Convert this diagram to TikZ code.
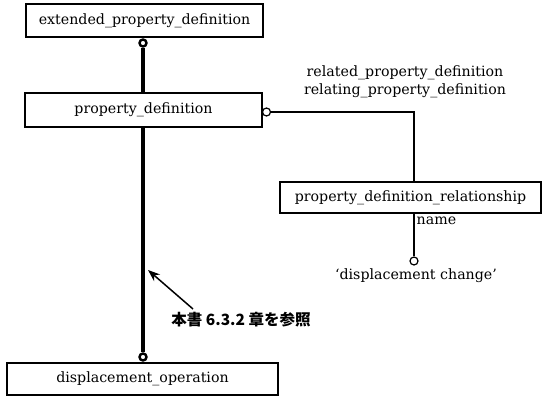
\documentclass[tikz,border=0pt]{standalone}
\usepackage{fontspec}
\setmainfont{DejaVu Serif}
\newfontfamily\cjk{Noto Sans CJK JP}
\usetikzlibrary{arrows.meta, positioning}

\begin{document}
\begin{tikzpicture}[x=1pt, y=-1pt, >={Stealth[length=12pt,width=9pt]},
  entity/.style={draw, line width=1.2pt, minimum height=33pt, inner sep=0pt,
    font=\fontsize{14.2}{16}\selectfont},
  ring/.style={circle, draw, fill=white, inner sep=0pt, minimum size=7pt},
  lbl/.style={inner sep=0pt, font=\fontsize{14.2}{16}\selectfont}]
  \useasboundingbox (0,0) rectangle (550,401);

  % Entities
  \node[entity, minimum width=237pt] (extpd) at (144.5,20.5) {extended\_property\_definition};
  \node[entity, minimum width=237pt, minimum height=34pt] (pd) at (143.5,110) {property\_definition};
  \node[entity, minimum width=261pt, minimum height=31pt] (pdr) at (410.5,197.5) {property\_definition\_relationship};
  \node[entity, minimum width=271pt, minimum height=32pt] (dispop) at (142.5,379) {displacement\_operation};

  % Rings
  \node[ring, line width=2.4pt] (supring) at (143,43) {};
  \node[ring, line width=1.2pt, minimum size=8pt] (relring) at (266.5,112) {};
  \node[ring, line width=1.2pt, minimum size=8pt] (namering) at (414,261) {};
  \node[ring, line width=2.4pt] (subring) at (143,357) {};

  % Supertype links
  \draw[line width=3.4pt] (supring.south) -- (supring.south |- pd.north);
  \draw[line width=3.4pt] (subring.north |- pd.south) -- (subring.north);

  % Relationship
  \draw[line width=1.5pt] (relring.east) -| ([xshift=3.5pt]pdr.north);
  \node[lbl] (related) at (405,73) {related\_property\_definition};
  \node[lbl] (relating) at (405,91) {relating\_property\_definition};

  % Name attribute
  \draw[line width=1.5pt] ([xshift=3.5pt]pdr.south) -- (namering.north);
  \node[lbl, anchor=west] (namelbl) at (416.5,221) {name};
  \node[lbl] (dispchange) at (416,276) {‘displacement change’};

  % Note
  \node[inner sep=0pt, font=\cjk\bfseries\fontsize{15.5}{17}\selectfont] (note) at (241,320) {本書 6.3.2 章を参照};
  \coordinate (arrowfoot) at (193,309);
  \coordinate (arrowtip) at (148,270);
  \draw[->, line width=1.5pt] (arrowfoot) -- (arrowtip);
\end{tikzpicture}
\end{document}
